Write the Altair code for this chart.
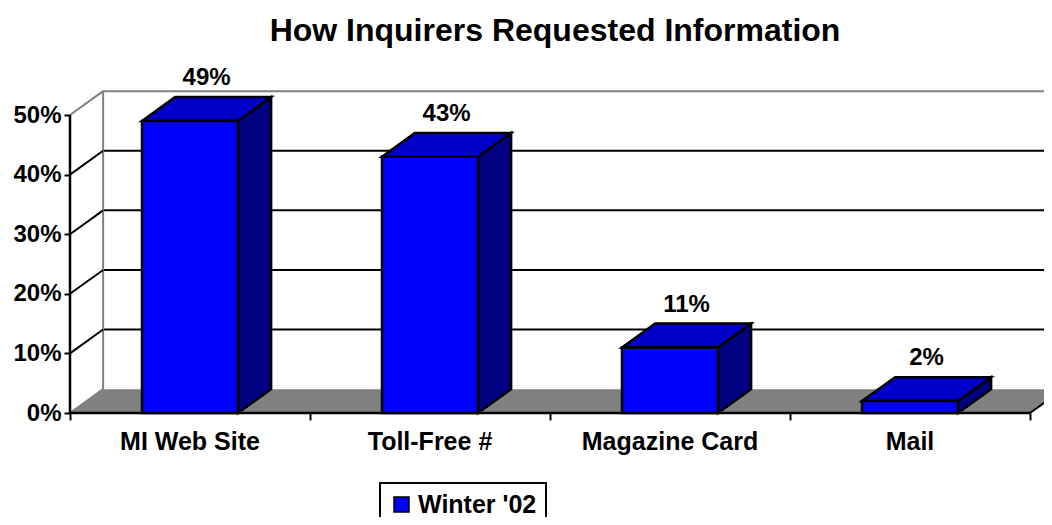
import altair as alt
import pandas as pd

# ---------------- data ----------------
categories = ["MI Web Site", "Toll-Free #", "Magazine Card", "Mail"]
values = [49, 43, 11, 2]
series_name = "Winter '02"
y_ticks = [0, 10, 20, 30, 40, 50]
grid_levels = [10, 20, 30, 40]
chart_title = "How Inquirers Requested Information"

# ---------------- style / geometry constants ----------------
FONT = "Liberation Sans"
BAR_HALF = 0.2      # half bar width in category units
DX = 0.138          # 3-D depth offset (category units)
DY = 4.0            # 3-D depth offset (percent units)
W, H = 974, 353     # plot area in px
X_MAX = W / 240.0
Y_MAX = H / 5.96
N = len(categories)
FRONT = "#0000FF"
TOP = "#0000C8"
SIDE = "#000080"
WALL = "#808080"

xs = alt.Scale(domain=[0, X_MAX], nice=False, zero=False)
ys = alt.Scale(domain=[0, Y_MAX], nice=False, zero=False)
ax_x = alt.Axis(values=list(range(N + 1)), labels=False, domain=False, grid=False,
                ticks=True, tickSize=7, tickColor="black", tickWidth=2, title=None)
ax_y = alt.Axis(values=y_ticks, labelExpr="datum.value + '%'", domain=False, grid=False,
                ticks=True, tickSize=6, tickColor="black", tickWidth=2,
                labelFont=FONT, labelFontWeight="bold", labelFontSize=24,
                labelColor="black", labelPadding=3, title=None)


def X(f):
    return alt.X(f, type="quantitative", scale=xs, axis=ax_x)


def Y(f):
    return alt.Y(f, type="quantitative", scale=ys, axis=ax_y)


# bars table
bars = pd.DataFrame({"cat": categories, "value": values, "idx": list(range(N))})
bars["x0"] = bars["idx"] + 0.5 - BAR_HALF
bars["x1"] = bars["idx"] + 0.5 + BAR_HALF
bars["xc"] = bars["idx"] + 0.5
bars["xl"] = bars["idx"] + 0.5 + DX / 2
bars["zero"] = 0.0
bars["ytop"] = bars["value"] + DY
bars["series"] = series_name
bars["label"] = bars["value"].astype(str) + "%"

# top faces (horizontal parallelograms) and side faces (vertical parallelograms)
top_rows = []
side_rows = []
for c, v, x0, x1 in zip(bars["cat"], bars["value"], bars["x0"], bars["x1"]):
    top_rows.append({"cat": c, "y": float(v), "xa": x0, "xb": x1})
    top_rows.append({"cat": c, "y": v + DY, "xa": x0 + DX, "xb": x1 + DX})
    side_rows.append({"cat": c, "x": x1, "ya": 0.0, "yb": float(v)})
    side_rows.append({"cat": c, "x": x1 + DX, "ya": DY, "yb": v + DY})
top_df = pd.DataFrame(top_rows)
side_df = pd.DataFrame(side_rows)

# back wall
grid_df = pd.DataFrame({"y": [t + DY for t in grid_levels], "xa": DX, "xb": N + DX})
wall_top_df = pd.DataFrame({"y": [y_ticks[-1] + DY], "xa": [DX], "xb": [N + DX]})
wall_left_df = pd.DataFrame({"x": [DX], "ya": [DY], "yb": [y_ticks[-1] + DY]})
diag_df = pd.DataFrame({"xa": 0.0, "ya": grid_levels, "xb": DX,
                        "yb": [t + DY for t in grid_levels]})
diag_gray_df = pd.DataFrame({"xa": [0.0, 0.0], "ya": [0, y_ticks[-1]], "xb": [DX, DX],
                             "yb": [DY, y_ticks[-1] + DY]})

# floor
floor_df = pd.DataFrame({"y": [0.0, DY], "xa": [0.0, DX], "xb": [float(N), N + DX]})
floor_edge_df = pd.DataFrame({"xa": [float(N)], "ya": [0.0], "xb": [N + DX], "yb": [DY]})

# front axes lines
axis_lines_df = pd.DataFrame({"xa": [0.0, 0.0], "ya": [0.0, 0.0],
                              "xb": [0.0, float(N)], "yb": [float(y_ticks[-1]), 0.0]})

layers = []
layers.append(alt.Chart(grid_df).mark_rule(color="black", strokeWidth=2).encode(
    x=X("xa"), x2="xb", y=Y("y")))
layers.append(alt.Chart(wall_top_df).mark_rule(color=WALL, strokeWidth=2).encode(
    x=X("xa"), x2="xb", y=Y("y")))
layers.append(alt.Chart(wall_left_df).mark_rule(color=WALL, strokeWidth=2).encode(
    x=X("x"), y=Y("ya"), y2="yb"))
layers.append(alt.Chart(diag_df).mark_rule(color="black", strokeWidth=2).encode(
    x=X("xa"), y=Y("ya"), x2="xb", y2="yb"))
layers.append(alt.Chart(diag_gray_df).mark_rule(color=WALL, strokeWidth=2).encode(
    x=X("xa"), y=Y("ya"), x2="xb", y2="yb"))
layers.append(alt.Chart(floor_df).mark_area(orient="horizontal", color=WALL).encode(
    y=Y("y"), x=X("xa"), x2="xb"))
layers.append(alt.Chart(floor_edge_df).mark_rule(color="black", strokeWidth=2).encode(
    x=X("xa"), y=Y("ya"), x2="xb", y2="yb"))
layers.append(alt.Chart(axis_lines_df).mark_rule(color="black", strokeWidth=2.5).encode(
    x=X("xa"), y=Y("ya"), x2="xb", y2="yb"))
layers.append(alt.Chart(side_df).mark_area(orient="vertical", fill=SIDE, stroke="black",
                                           strokeWidth=2.5, fillOpacity=1).encode(
    x=X("x"), y=Y("ya"), y2="yb", detail="cat:N"))
layers.append(alt.Chart(top_df).mark_area(orient="horizontal", fill=TOP, stroke="black",
                                          strokeWidth=2.5, fillOpacity=1).encode(
    y=Y("y"), x=X("xa"), x2="xb", detail="cat:N"))
layers.append(alt.Chart(bars).mark_rect(stroke="black", strokeWidth=2.5, opacity=1).encode(
    x=X("x0"), x2="x1", y=Y("zero"), y2="value",
    color=alt.Color("series:N",
                    scale=alt.Scale(domain=[series_name], range=[FRONT]),
                    legend=alt.Legend(title=None, orient="none", legendX=310, legendY=423,
                                      direction="vertical", symbolType="square",
                                      symbolSize=225, symbolStrokeColor="black",
                                      symbolStrokeWidth=1.5, symbolFillColor=FRONT,
                                      labelFont=FONT, labelFontWeight="bold",
                                      labelFontSize=25, labelColor="black",
                                      labelOffset=4, strokeColor="black", padding=9,
                                      fillColor="white"))))
layers.append(alt.Chart(bars).mark_text(font=FONT, fontWeight="bold", fontSize=24,
                                        color="black", baseline="alphabetic",
                                        align="center", dy=-12).encode(
    x=X("xl"), y=Y("ytop"), text="label:N"))
layers.append(alt.Chart(bars).mark_text(font=FONT, fontWeight="bold", fontSize=25,
                                        color="black", baseline="alphabetic",
                                        align="center", dy=37).encode(
    x=X("xc"), y=Y("zero"), text="cat:N"))

chart = alt.layer(*layers).properties(
    width=W, height=H,
    background="white",
    title=alt.TitleParams(chart_title, font=FONT, fontSize=32, fontWeight="bold",
                          color="black", anchor="middle", dx=-2, dy=29, offset=16,
                          baseline="alphabetic"),
    autosize=alt.AutoSizeParams(type="none"),
    padding={"left": 62, "top": 52, "right": 0, "bottom": 104},
).configure_view(stroke=None).configure_legend(strokeWidth=2)

chart.save("out.html", embed_options={"renderer": "svg", "actions": False})
